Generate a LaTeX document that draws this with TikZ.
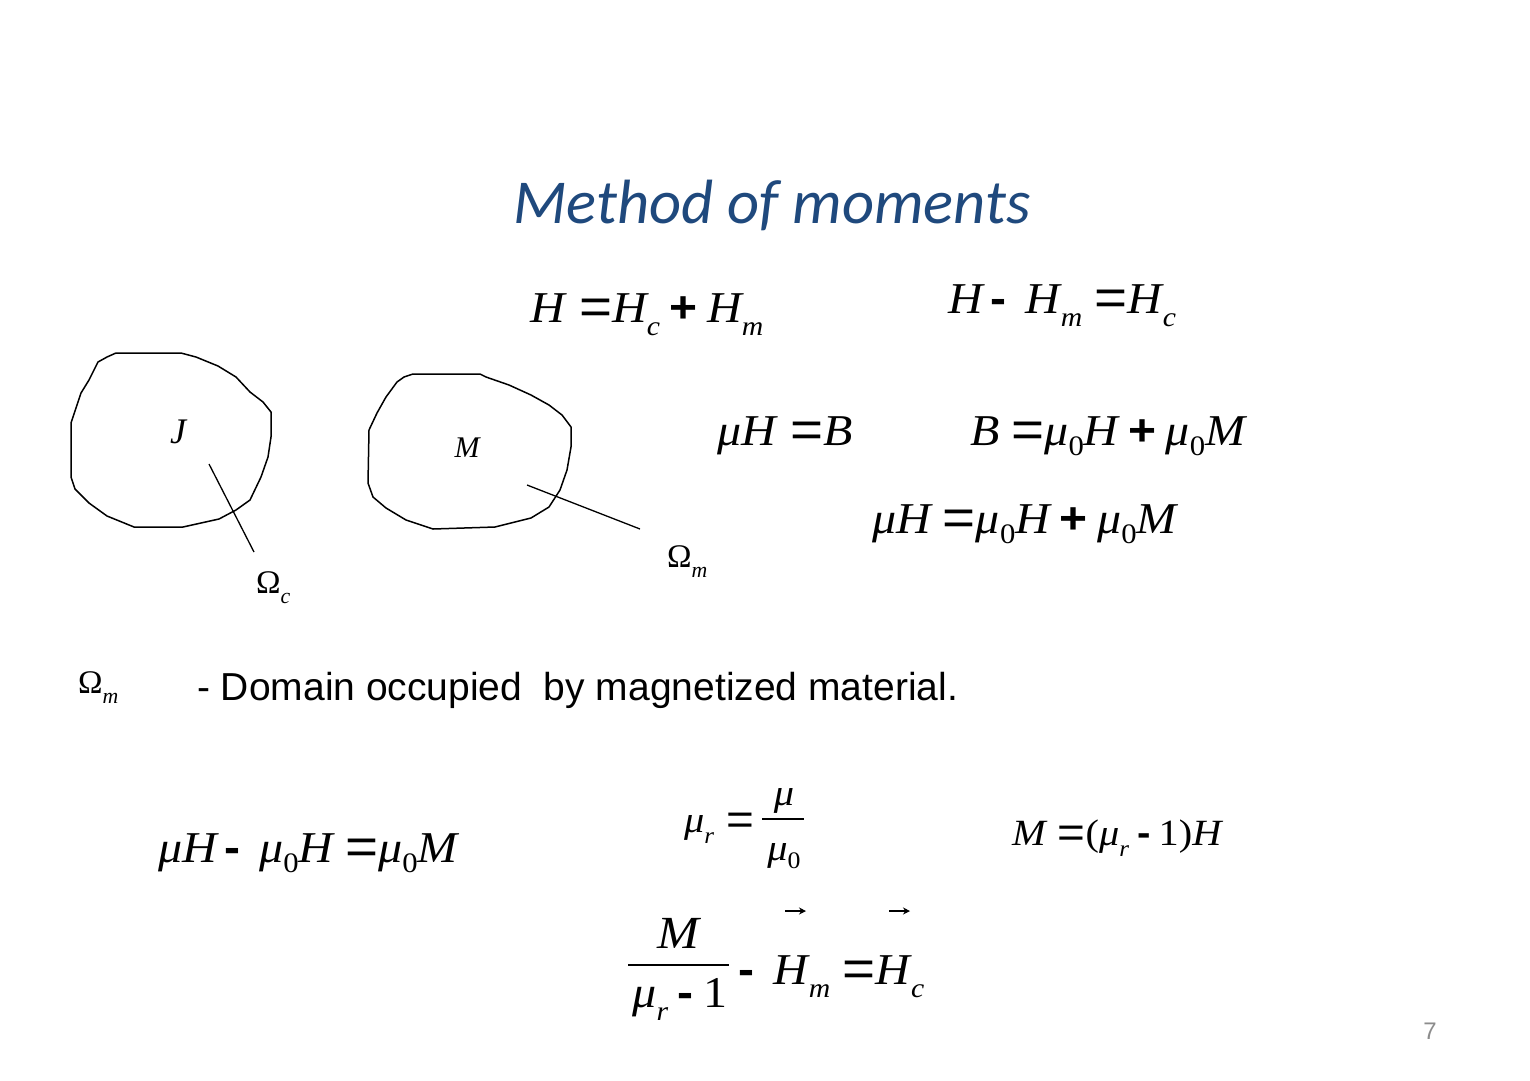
\documentclass[tikz,border=0pt]{standalone}
\usepackage{fontspec}
\usepackage{graphicx}
\usetikzlibrary{arrows.meta}
\setmainfont{Liberation Serif}
\newfontfamily\tms{Liberation Serif}
\newfontfamily\ars{Liberation Sans}
\newfontfamily\ttlfont{Carlito}
\definecolor{titleblue}{HTML}{1F497D}
\definecolor{pagegray}{HTML}{8C8C8C}
\newcommand\vi[1]{{\tms\itshape #1}}
\newcommand\vu[1]{{\tms #1}}
\newcommand\sbi[1]{\raisebox{-0.3em}{\scalebox{0.62}{\tms\itshape #1}}}
\newcommand\sbu[1]{\raisebox{-0.24em}{\scalebox{0.64}{\tms #1}}}
\newcommand\pl{{\ars\bfseries +}}
\newcommand\mn{{\ars\bfseries -}}
\newcommand\eqsign{\raisebox{-0.06em}{\scalebox{1.18}{\ars =}}}
\newcommand\st[1]{\scalebox{1.09}[1]{#1}}
\newcommand\omsub[1]{Ω\raisebox{-0.33em}{\scalebox{0.66}{\itshape #1}}}
\begin{document}
\begin{tikzpicture}[x=1pt,y=-1pt,
  eq/.style={anchor=base west, inner sep=0pt, font=\tms\fontsize{44}{50}\selectfont},
  eqs/.style={anchor=base west, inner sep=0pt, font=\tms\fontsize{37}{42}\selectfont},
  eqc/.style={anchor=base, inner sep=0pt, font=\tms\fontsize{44}{50}\selectfont},
  eqsc/.style={anchor=base, inner sep=0pt, font=\tms\fontsize{37}{42}\selectfont},
  omlbl/.style={anchor=base west, inner sep=0pt, font=\tms\fontsize{33}{38}\selectfont},
  blob/.style={line width=1.5pt, line join=round},
  leader/.style={line width=1.3pt},
  fracbar/.style={line width=1.8pt},
  vecarrow/.style={line width=1.8pt, -{Stealth[length=7pt,width=7pt]}}]
\useasboundingbox (0,0) rectangle (1530,1080);
\fill[white] (0,0) rectangle (1530,1080);

% title
\node[anchor=base, inner sep=0pt, text=titleblue, font=\ttlfont\itshape\fontsize{62.5}{70}\selectfont] (title) at (772,223) {Method of moments};

% top equations
\node[eq] (e1) at (530,322) {\st{\vi{H}\hspace{0.3em}\eqsign\vi{H}\sbi{c}\hspace{0.2em}\pl\hspace{0.2em}\vi{H}\sbi{m}}};
\node[eq] (e2) at (948,313) {\st{\vi{H}\hspace{0.15em}\mn\hspace{0.4em}\vi{H}\hspace{0.02em}\sbi{m}\hspace{0.25em}\eqsign\vi{H}\hspace{0.02em}\sbi{c}}};
\node[eq] (e3) at (717,445) {\st{\vi{μH}\hspace{0.3em}\eqsign\vi{B}}};
\node[eq] (e4) at (970,445) {\st{\vi{B}\hspace{0.25em}\eqsign\vi{μ}\sbu{0}\vi{H}\hspace{0.2em}\pl\hspace{0.2em}\vi{μ}\sbu{0}\vi{M}}};
\node[eq] (e5) at (872,533) {\st{\vi{μH}\hspace{0.25em}\eqsign\vi{μ}\sbu{0}\vi{H}\hspace{0.2em}\pl\hspace{0.2em}\vi{μ}\sbu{0}\vi{M}}};

% blob J
\draw[blob] (116,353) -- (181,353) -- (196,357) -- (218,366) -- (236,377) -- (250,392) -- (263,402) -- (271,412)
  -- (271,437) -- (268,457) -- (261,477) -- (250,500) -- (236,510) -- (219,519) -- (183,527) -- (134,527)
  -- (107,516) -- (89,503) -- (75,489) -- (71,477) -- (71,423) -- (76,408) -- (81,393) -- (89,380)
  -- (98,362) -- (107,357) -- cycle;
\node[anchor=center, inner sep=0pt, font=\tms\itshape\fontsize{36}{40}\selectfont] (J) at (178,432) {J};
\coordinate (lc1) at (209,464);
\coordinate (lc2) at (254,552);
\draw[leader] (lc1) -- (lc2);
\node[omlbl] (omc) at (256,593) {\omsub{c}};

% blob M
\draw[blob] (413,374) -- (480,374) -- (486,377) -- (509,385) -- (531,395) -- (549,405) -- (562,415) -- (571,427)
  -- (571,447) -- (567,470) -- (560,490) -- (549,507) -- (531,518) -- (495,527) -- (433,529) -- (406,520)
  -- (386,508) -- (373,497) -- (368,483) -- (369,430) -- (377,413) -- (386,397) -- (397,382) -- (404,377) -- cycle;
\node[anchor=center, inner sep=0pt, font=\tms\itshape\fontsize{30}{34}\selectfont] (M) at (467,448) {M};
\coordinate (lm1) at (527,485);
\coordinate (lm2) at (640,529);
\draw[leader] (lm1) -- (lm2);
\node[omlbl] (omm) at (667,567) {\omsub{m}};

% domain line
\node[omlbl] (omd) at (78,693) {\omsub{m}};
\node[anchor=base west, inner sep=0pt, font=\ars\fontsize{39}{45}\selectfont] (dom) at (197,700) {- Domain occupied\ \ by magnetized material.};

% lower equations
\node[eq] (e6) at (158,862) {\st{\vi{μH}\hspace{0.15em}\mn\hspace{0.4em}\vi{μ}\sbu{0}\vi{H}\hspace{0.25em}\eqsign\vi{μ}\sbu{0}\vi{M}}};
\node[eqs] (e7) at (684,832) {\st{\vi{μ}\sbi{r}\hspace{0.3em}\eqsign}};
\node[eqsc] (e7n) at (784,805) {\st{\vi{μ}}};
\node[eqsc] (e7d) at (784,860) {\st{\vi{μ}\sbu{0}}};
\draw[fracbar] (762,819) -- (804,819);
\node[eqs] (e8) at (1012,845) {\st{\vi{M}\hspace{0.3em}\eqsign\vu{(}\vi{μ}\sbi{r}\hspace{0.2em}\mn\hspace{0.2em}\vu{1)}\vi{H}}};

% final equation
\node[eqc, font=\tms\fontsize{46}{50}\selectfont] (e9n) at (678,948) {\st{\vi{M}}};
\node[eqc] (e9d) at (680,1007) {\st{\vi{μ}\sbi{r}\hspace{0.2em}\mn\hspace{0.2em}\vu{1}}};
\draw[fracbar] (628,965) -- (729,965);
\node[eq] (e9) at (738,984) {\st{\mn\hspace{0.4em}\vi{H}\hspace{0.02em}\sbi{m}\hspace{0.25em}\eqsign\vi{H}\hspace{0.02em}\sbi{c}}};
\coordinate (a1s) at (785,911);
\coordinate (a1e) at (806,911);
\coordinate (a2s) at (889,911);
\coordinate (a2e) at (910,911);
\draw[vecarrow] (a1s) -- (a1e);
\draw[vecarrow] (a2s) -- (a2e);

% page number
\node[anchor=base east, inner sep=0pt, text=pagegray, font=\ars\fontsize{24}{28}\selectfont] (pg) at (1437,1039) {7};
\end{tikzpicture}
\end{document}
